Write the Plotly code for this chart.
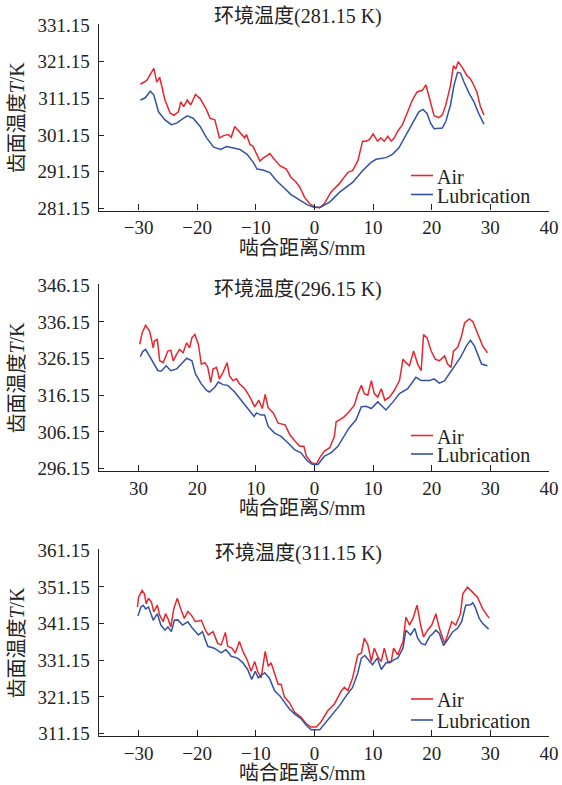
import plotly.graph_objects as go

# ---------------- data ----------------
ambient = [281.15, 296.15, 311.15]
panel_titles = ["环境温度(281.15 K)", "环境温度(296.15 K)", "环境温度(311.15 K)"]
series_names = ["Air", "Lubrication"]
x_tickvals = [-30, -20, -10, 0, 10, 20, 30, 40]
x_ticktext_signed = ["\u221230", "\u221220", "\u221210", "0", "10", "20", "30", "40"]
x_ticktext_mirror = ["30", "20", "10", "0", "10", "20", "30", "40"]

# Panel 1 (281.15 K)
p1_air_x = [-29.7, -28.6, -27.4, -26.9, -26.4, -26.0, -25.5, -24.6, -24.0, -23.2, -22.8, -22.3, -21.7, -21.1,
            -20.3, -19.5, -18.4, -17.8, -17.0, -16.2, -15.5, -14.7, -14.2, -13.6, -12.7, -11.9, -11.6, -11.0,
            -10.5, -9.9, -9.3, -8.8, -7.6, -7.1, -5.9, -4.8, -4.0, -3.1, -2.5, -1.7, -0.85, 0.0, 0.85, 1.7,
            2.8, 4.2, 5.7, 6.5, 7.4, 8.2, 8.8, 9.4, 10.0, 10.75, 11.3, 11.9, 12.5, 13.1, 13.6, 14.2, 15.0,
            15.9, 16.7, 17.5, 18.4, 19.0, 19.5, 20.4, 21.2, 21.8, 22.4, 23.2, 23.7, 24.1, 24.5, 25.2, 26.0,
            26.6, 26.9, 27.7, 28.3, 28.9]
p1_air_t = [315.0, 316.05, 319.35, 315.6, 316.9, 314.25, 310.7, 307.1, 306.5, 307.5, 310.2, 308.9, 310.7, 309.35,
            312.2, 311.1, 308.0, 305.7, 305.3, 300.4, 301.0, 301.3, 300.55, 303.5, 301.7, 300.4, 301.3, 298.6,
            298.15, 295.9, 294.1, 294.8, 296.1, 295.05, 292.8, 291.9, 289.6, 288.3, 286.95, 284.25, 282.5, 281.6,
            281.3, 282.5, 285.6, 287.85, 291.0, 291.45, 294.1, 299.5, 299.5, 299.95, 301.45, 299.5, 300.35, 299.5,
            300.8, 299.5, 300.35, 302.2, 304.0, 307.5, 310.7, 312.9, 313.35, 314.85, 312.05, 306.45, 305.9, 306.65,
            309.35, 314.7, 320.05, 319.15, 321.15, 319.6, 317.4, 316.45, 315.6, 312.9, 308.9, 306.65]
p1_lub_x = [-29.7, -28.9, -28.0, -27.4, -26.6, -25.5, -24.4, -23.5, -22.3, -21.7, -20.7, -19.5, -18.4, -17.2,
            -16.0, -15.0, -13.8, -12.7, -11.5, -10.4, -9.8, -8.8, -7.6, -6.5, -5.3, -4.0, -2.5, -1.1, 0.0, 1.1,
            2.6, 4.3, 6.5, 8.2, 9.6, 10.5, 12.2, 13.3, 14.4, 15.6, 16.7, 17.8, 18.5, 19.2, 19.8, 20.4, 21.8,
            22.4, 23.2, 23.8, 24.4, 24.9, 25.5, 26.4, 27.2, 28.0, 28.9]
p1_lub_t = [310.7, 311.25, 313.1, 312.05, 307.5, 305.3, 304.0, 304.4, 305.75, 306.4, 305.75, 303.5, 300.4, 297.85,
            297.25, 298.05, 297.65, 297.25, 295.9, 293.65, 291.9, 291.65, 290.95, 288.75, 286.95, 284.95, 283.4,
            282.05, 281.4, 281.55, 282.9, 285.6, 288.25, 291.45, 293.65, 294.55, 295.0, 295.9, 297.7, 301.3, 304.4,
            307.5, 308.15, 307.05, 304.4, 302.9, 303.05, 304.85, 309.35, 314.7, 318.25, 318.05, 315.6, 312.45,
            310.2, 307.05, 304.15]

# Panel 2 (296.15 K)
p2_air_x = [-29.8, -29.4, -28.8, -28.1, -27.5, -27.3, -26.8, -26.4, -25.8, -25.0, -24.5, -24.1, -23.5, -23.0,
            -22.4, -21.8, -21.3, -20.9, -20.4, -19.8, -19.3, -18.7, -18.2, -17.7, -17.3, -16.7, -16.2, -15.6,
            -14.9, -14.5, -13.9, -13.3, -12.8, -11.9, -11.0, -10.2, -9.5, -8.9, -8.4, -7.9, -7.0, -6.2, -5.0,
            -4.2, -3.3, -2.5, -1.8, -1.4, -0.5, 0.3, 0.9, 1.7, 2.6, 3.4, 3.7, 4.3, 5.1, 5.9, 6.8, 7.4, 8.0,
            8.5, 9.1, 9.7, 10.2, 10.8, 11.4, 12.0, 12.8, 13.6, 14.5, 15.1, 15.6, 16.2, 16.9, 17.6, 18.2, 18.6,
            19.2, 19.9, 20.6, 21.3, 22.2, 22.7, 23.3, 23.7, 24.4, 25.0, 25.6, 26.4, 27.0, 27.8, 28.7, 29.5]
p2_air_t = [330.05, 333.15, 335.2, 333.6, 329.1, 330.95, 331.35, 325.55, 325.05, 328.2, 328.45, 325.55, 327.35,
            328.65, 327.75, 330.45, 329.1, 331.8, 332.7, 330.0, 324.65, 325.05, 323.75, 319.7, 323.3, 323.75,
            320.6, 322.4, 325.05, 321.5, 320.15, 320.65, 319.3, 317.95, 315.65, 313.0, 314.8, 312.55, 316.4,
            312.75, 311.25, 308.55, 308.1, 305.4, 303.6, 302.25, 302.25, 299.6, 297.8, 297.35, 299.15, 300.95,
            301.85, 304.95, 308.95, 309.45, 310.35, 311.65, 313.45, 316.6, 318.85, 316.6, 316.15, 320.15, 316.6,
            315.65, 317.95, 314.8, 315.65, 317.45, 320.15, 326.0, 325.05, 324.2, 328.2, 324.65, 322.85, 332.7,
            331.8, 328.2, 326.0, 325.55, 326.9, 324.65, 323.75, 328.2, 329.15, 331.8, 335.85, 336.95, 336.25,
            333.15, 329.55, 327.75]
p2_lub_x = [-29.7, -29.3, -28.8, -27.8, -26.7, -26.1, -25.3, -24.5, -23.5, -22.7, -21.8, -20.9, -20.3, -19.3,
            -18.4, -17.9, -17.0, -16.4, -15.6, -14.8, -13.6, -12.5, -11.4, -10.3, -9.9, -9.1, -8.5, -7.9, -6.8,
            -5.7, -4.5, -3.4, -2.3, -1.2, -0.4, 0.6, 1.7, 2.8, 4.0, 5.1, 5.9, 7.1, 8.0, 8.8, 9.7, 10.8, 12.2,
            13.4, 14.5, 15.9, 17.3, 18.2, 19.6, 20.4, 21.3, 22.2, 23.0, 23.9, 24.9, 25.9, 26.6, 27.3, 28.1,
            28.5, 29.5]
p2_lub_t = [326.65, 328.05, 328.65, 326.0, 322.85, 322.75, 324.2, 322.85, 323.35, 324.65, 326.25, 325.55, 321.95,
            319.25, 317.45, 317.05, 318.35, 319.75, 319.05, 318.85, 317.05, 314.8, 312.55, 310.35, 311.35, 310.75,
            310.75, 307.65, 305.85, 304.95, 303.15, 301.35, 300.45, 298.25, 297.35, 297.3, 299.55, 300.45, 302.25,
            304.95, 307.25, 309.45, 313.05, 313.15, 312.55, 314.35, 312.15, 314.35, 316.6, 317.95, 321.05, 320.15,
            320.15, 320.6, 319.45, 320.15, 321.95, 324.2, 326.45, 329.55, 331.15, 329.55, 326.45, 324.65, 324.2]

# Panel 3 (311.15 K)
p3_air_x = [-30.2, -30.0, -29.4, -29.0, -28.7, -28.3, -27.8, -27.4, -26.8, -26.4, -25.8, -25.4, -25.0, -24.5,
            -24.0, -23.4, -22.8, -22.2, -21.6, -21.0, -20.3, -19.3, -18.6, -18.1, -17.3, -16.5, -15.9, -15.2,
            -14.8, -14.1, -13.5, -12.8, -12.2, -11.5, -10.8, -10.2, -9.7, -9.1, -8.4, -7.9, -7.4, -6.9, -6.2,
            -5.7, -5.1, -4.3, -3.4, -2.3, -1.4, -0.6, 0.3, 1.1, 2.3, 3.4, 4.6, 5.1, 5.7, 6.5, 7.4, 8.0, 8.5,
            9.1, 9.7, 10.2, 10.9, 11.4, 11.9, 12.5, 13.1, 13.5, 14.2, 15.1, 15.6, 16.2, 16.8, 17.5, 18.1, 18.6,
            19.3, 20.0, 20.7, 21.3, 22.2, 22.7, 23.4, 24.1, 24.9, 25.3, 26.1, 27.0, 27.8, 28.7, 29.8]
p3_air_t = [345.65, 348.35, 350.15, 349.25, 346.55, 348.05, 346.95, 344.35, 346.15, 343.45, 341.65, 343.85, 342.55,
            340.25, 345.15, 348.05, 345.15, 342.55, 344.45, 343.45, 341.65, 342.05, 339.35, 338.05, 338.95, 335.75,
            335.35, 338.75, 334.95, 334.45, 333.15, 336.25, 333.55, 331.35, 328.15, 330.85, 328.15, 326.35, 333.55,
            329.55, 330.45, 328.15, 324.65, 324.65, 321.05, 319.65, 317.05, 315.65, 313.85, 312.95, 312.95, 314.35,
            317.45, 319.25, 322.85, 323.75, 322.85, 326.35, 332.65, 333.15, 337.15, 335.35, 330.85, 334.45, 331.75,
            330.85, 334.45, 330.85, 330.85, 334.45, 332.65, 336.25, 342.95, 340.75, 342.55, 346.15, 340.75, 337.55,
            339.35, 340.75, 343.85, 339.85, 335.75, 338.05, 341.65, 340.75, 343.85, 349.25, 351.05, 349.65, 348.35,
            345.15, 342.65]
p3_lub_x = [-30.1, -29.6, -29.2, -28.8, -28.3, -27.5, -26.8, -26.2, -25.5, -25.0, -24.4, -23.9, -23.3, -22.5,
            -21.6, -20.8, -19.8, -19.1, -18.2, -17.1, -15.9, -15.1, -14.2, -13.1, -12.2, -11.4, -10.7, -10.1,
            -9.6, -8.5, -7.7, -6.8, -5.9, -5.1, -4.3, -3.4, -2.3, -1.4, -0.6, 0.9, 2.0, 3.1, 4.3, 5.4, 6.5,
            7.4, 8.0, 8.6, 9.4, 9.9, 10.7, 11.4, 12.2, 12.8, 13.6, 14.2, 15.1, 15.6, 16.4, 17.1, 17.6, 18.2,
            18.9, 19.6, 20.2, 20.7, 21.3, 22.0, 22.7, 23.6, 24.4, 25.1, 25.8, 26.6, 27.0, 27.4, 28.1, 28.7, 29.7]
p3_lub_t = [343.25, 345.65, 346.15, 345.15, 345.65, 342.05, 343.85, 340.75, 339.35, 340.25, 338.95, 342.05, 342.15,
            340.75, 341.65, 339.85, 338.05, 338.95, 334.95, 334.45, 333.15, 334.05, 332.25, 331.75, 330.45, 328.65,
            325.95, 328.15, 326.35, 327.75, 326.35, 322.85, 321.45, 319.65, 317.95, 316.55, 315.25, 313.45, 312.25,
            312.25, 314.35, 316.55, 318.85, 321.45, 323.75, 327.75, 331.75, 332.45, 330.85, 329.95, 331.75, 328.65,
            330.45, 330.45, 331.35, 331.75, 334.45, 339.35, 338.05, 339.85, 337.15, 335.75, 335.35, 337.55, 338.45,
            339.35, 338.45, 335.15, 336.75, 338.95, 339.85, 341.65, 346.15, 346.25, 346.85, 345.65, 342.55, 341.15,
            339.65]

panels = [
    (p1_air_x, p1_air_t, p1_lub_x, p1_lub_t),
    (p2_air_x, p2_air_t, p2_lub_x, p2_lub_t),
    (p3_air_x, p3_air_t, p3_lub_x, p3_lub_t),
]
for ax, at, lx, lt in panels:
    assert len(ax) == len(at) and len(lx) == len(lt), (len(ax), len(at), len(lx), len(lt))

# ---------------- styling / layout ----------------
RED = "#e8262e"
BLUE = "#3452a4"
COLORS = [RED, BLUE]
INK = "#222222"
FONT = "Liberation Serif, Times New Roman, Noto Sans CJK SC, serif"

W, H = 562, 785


def px_x(p):
    return p / W


def px_y(p):
    return 1 - p / H


# plot-area geometry in window pixels
x_left, x_right = 98.7, 549.0
bottoms = [210.5, 470.7, 735.7]
px_per_k = 3.67
t_lo_pad, t_hi_pad = 0.55, 50.2
title_ys = [17.0, 289.5, 553.5]
xtitle_ys = [248, 507.5, 773]
legend_ys = [(175.5, 194.5), (435.5, 454.0), (699.0, 720.0)]

fig = go.Figure()
annotations = []
shapes = []
for i, (ax, at, lx, lt) in enumerate(panels):
    n = "" if i == 0 else str(i + 1)
    for k, (xs, ys) in enumerate([(ax, at), (lx, lt)]):
        fig.add_trace(go.Scatter(x=xs, y=ys, name=series_names[k], mode="lines",
                                 line=dict(color=COLORS[k], width=1.5), xaxis="x" + n, yaxis="y" + n,
                                 showlegend=False))

    T0 = ambient[i]
    bot = bottoms[i]
    top = bot - (t_lo_pad + t_hi_pad) * px_per_k
    xa = dict(domain=[px_x(x_left), px_x(x_right)], range=[-36.8, 40],
              tickvals=x_tickvals,
              ticktext=x_ticktext_mirror if i == 1 else x_ticktext_signed,
              showline=True, linecolor=INK, linewidth=1.3, ticks="inside", ticklen=6,
              tickcolor=INK, tickwidth=1.2, showgrid=False, zeroline=False,
              tickfont=dict(family=FONT, size=19, color=INK),
              anchor="y" + n, automargin=False)
    ya = dict(domain=[px_y(bot), px_y(top)], range=[T0 - t_lo_pad, T0 + t_hi_pad],
              tickvals=[T0 + 10 * k for k in range(6)],
              ticktext=["%.2f" % (T0 + 10 * k) for k in range(6)],
              showline=True, linecolor=INK, linewidth=1.3, ticks="inside", ticklen=5,
              tickcolor=INK, tickwidth=1.2, showgrid=False, zeroline=False,
              tickfont=dict(family=FONT, size=19, color=INK), ticklabelstandoff=4,
              anchor="x" + n, automargin=False)
    fig.layout["xaxis" + n] = xa
    fig.layout["yaxis" + n] = ya

    # legend (line sample + label) for this panel
    for k in range(2):
        ly = legend_ys[i][k]
        shapes.append(dict(type="line", xref="paper", yref="paper",
                           x0=px_x(411), x1=px_x(433), y0=px_y(ly), y1=px_y(ly),
                           line=dict(color=COLORS[k], width=1.6)))
        annotations.append(dict(text=series_names[k], x=px_x(435), y=px_y(ly + 1), xref="paper", yref="paper",
                                xanchor="left", yanchor="middle", showarrow=False, height=18,
                                font=dict(family=FONT, size=20, color=INK)))

    # panel title
    annotations.append(dict(text=panel_titles[i], x=px_x(298), y=px_y(title_ys[i]), xref="paper", yref="paper",
                            xanchor="center", yanchor="middle", showarrow=False,
                            font=dict(family=FONT, size=20, color=INK)))
    # x-axis title
    annotations.append(dict(text="啮合距离<i>S</i>/mm", x=px_x(302), y=px_y(xtitle_ys[i]), xref="paper",
                            yref="paper", xanchor="center", yanchor="middle", showarrow=False,
                            font=dict(family=FONT, size=20, color=INK)))
    # y-axis title
    annotations.append(dict(text="齿面温度<i>T</i>/K", x=px_x(17), y=px_y((bot + top) / 2), xref="paper",
                            yref="paper", xanchor="center", yanchor="middle", showarrow=False, textangle=-90,
                            font=dict(family=FONT, size=20, color=INK)))

fig.update_layout(width=W, height=H, margin=dict(l=0, r=0, t=0, b=0),
                  paper_bgcolor="white", plot_bgcolor="white",
                  annotations=annotations, shapes=shapes, showlegend=False)

fig.write_html("out.html", config={"displayModeBar": False},
               post_script="document.body.style.margin='0';document.body.style.overflow='hidden';")
